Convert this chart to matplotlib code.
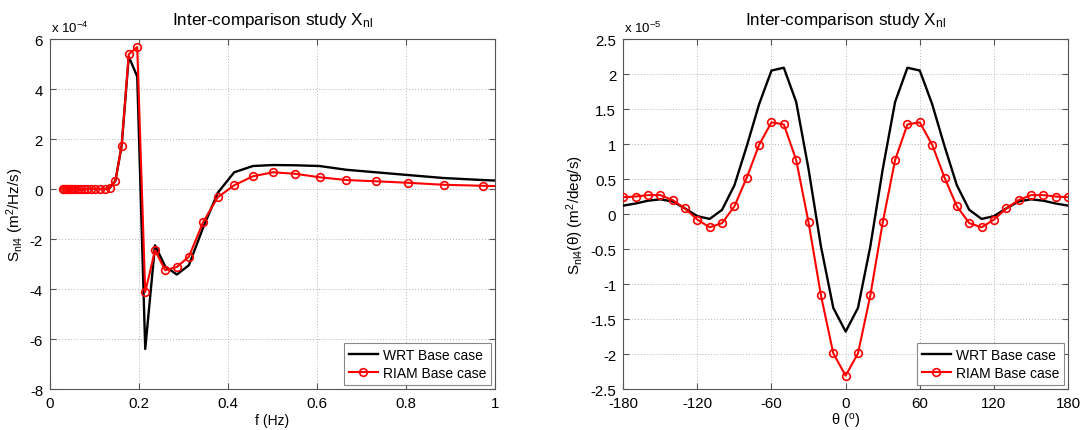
import matplotlib
matplotlib.use("Agg")
import matplotlib.pyplot as plt
from matplotlib.ticker import FuncFormatter

plt.rcParams['font.family'] = ['Liberation Sans', 'DejaVu Sans']
plt.rcParams['mathtext.default'] = 'regular'
plt.rcParams['axes.unicode_minus'] = False

# ---------------- data: left panel (values in units of 1e-4) ----------------
freq = [0.029, 0.032, 0.035, 0.039, 0.043, 0.047, 0.052, 0.057, 0.063, 0.069,
        0.076, 0.084, 0.092, 0.101, 0.112, 0.123, 0.134, 0.147, 0.161, 0.177,
        0.196, 0.214, 0.236, 0.259, 0.285, 0.312, 0.344, 0.377, 0.414, 0.456,
        0.501, 0.551, 0.606, 0.666, 0.732, 0.804, 0.885, 0.972, 1.069]
riam_f = [0.0, 0.0, 0.0, 0.0, 0.0, 0.0, 0.0, 0.0, 0.0, 0.0,
          0.0, 0.0, 0.0, 0.0, 0.0, 0.0, 0.04, 0.33, 1.73, 5.39,
          5.68, -4.12, -2.45, -3.25, -3.12, -2.71, -1.33, -0.33, 0.15, 0.51,
          0.67, 0.61, 0.47, 0.36, 0.31, 0.25, 0.17, 0.13, 0.09]
wrt_f = [0.0, 0.0, 0.0, 0.0, 0.0, 0.0, 0.0, 0.0, 0.0, 0.0,
         0.0, 0.0, 0.0, 0.0, 0.0, 0.0, 0.04, 0.33, 1.73, 5.30,
         4.50, -6.40, -2.25, -3.10, -3.42, -3.05, -1.55, -0.15, 0.67, 0.92,
         0.96, 0.95, 0.92, 0.77, 0.67, 0.56, 0.44, 0.36, 0.29]

# ---------------- data: right panel (values in units of 1e-5) ----------------
theta = [-180, -170, -160, -150, -140, -130, -120, -110, -100, -90,
         -80, -70, -60, -50, -40, -30, -20, -10, 0,
         10, 20, 30, 40, 50, 60, 70, 80, 90,
         100, 110, 120, 130, 140, 150, 160, 170, 180]
riam_t = [0.24, 0.25, 0.27, 0.27, 0.20, 0.08, -0.08, -0.19, -0.13, 0.11,
          0.52, 0.99, 1.31, 1.28, 0.77, -0.12, -1.16, -1.99, -2.31,
          -1.99, -1.16, -0.12, 0.77, 1.28, 1.31, 0.99, 0.52, 0.11,
          -0.13, -0.19, -0.08, 0.08, 0.20, 0.27, 0.27, 0.25, 0.24]
wrt_t = [0.12, 0.15, 0.19, 0.21, 0.18, 0.08, -0.03, -0.07, 0.06, 0.41,
         0.97, 1.57, 2.05, 2.09, 1.60, 0.64, -0.46, -1.34, -1.68,
         -1.34, -0.46, 0.64, 1.60, 2.09, 2.05, 1.57, 0.97, 0.41,
         0.06, -0.07, -0.03, 0.08, 0.18, 0.21, 0.19, 0.15, 0.12]

left_xticks = [0, 0.2, 0.4, 0.6, 0.8, 1]
left_yticks = [-8, -6, -4, -2, 0, 2, 4, 6]
right_xticks = [-180, -120, -60, 0, 60, 120, 180]
right_yticks = [-2.5, -2, -1.5, -1, -0.5, 0, 0.5, 1, 1.5, 2, 2.5]

title = 'Inter-comparison study X$_{nl}$'
labels = ['WRT Base case', 'RIAM Base case']

fig = plt.figure(figsize=(10.8, 4.31), dpi=100)
ax1 = fig.add_axes([0.0463, 0.0951, 0.412, 0.812])
ax2 = fig.add_axes([0.577, 0.0951, 0.412, 0.812])

fmt = FuncFormatter(lambda v, p: '%g' % v)
edge = '#555555'


def style(ax):
    ax.grid(True, linestyle=(0, (1, 2)), color='#b5b5b5', linewidth=0.7)
    ax.set_axisbelow(True)
    ax.tick_params(direction='in', top=True, right=True, length=4,
                   color=edge, labelsize=10.8, pad=5, width=0.8)
    for s in ax.spines.values():
        s.set_color(edge)
        s.set_linewidth(0.8)
    ax.xaxis.set_major_formatter(fmt)
    ax.yaxis.set_major_formatter(fmt)


for ax, x, w, r in [(ax1, freq, wrt_f, riam_f), (ax2, theta, wrt_t, riam_t)]:
    style(ax)
    ax.plot(x, w, color='black', linewidth=1.7, label=labels[0], zorder=3)
    ax.plot(x, r, color='#ff0000', linewidth=1.5, marker='o', markersize=5.5,
            markerfacecolor='none', markeredgewidth=1.2, label=labels[1], zorder=4)
    ax.set_title(title, fontsize=12.3, pad=11)
    leg = ax.legend(loc='lower right', fontsize=10, fancybox=False, framealpha=1,
                    edgecolor='#888888', borderaxespad=0.3, handlelength=2.1,
                    handletextpad=0.35, borderpad=0.35, labelspacing=0.3)
    leg.get_frame().set_linewidth(0.8)

ax1.set_xlim(0, 1)
ax1.set_ylim(-8, 6)
ax1.set_xticks(left_xticks)
ax1.set_yticks(left_yticks)
ax1.set_xlabel('f (Hz)', fontsize=10, labelpad=2)
ax1.set_ylabel('S$_{nl4}$ (m$^2$/Hz/s)', fontsize=11, labelpad=3)
ax1.text(0.003, 1.012, 'x 10$^{-4}$', transform=ax1.transAxes, fontsize=9.5,
         ha='left', va='bottom')

ax2.set_xlim(-180, 180)
ax2.set_ylim(-2.5, 2.5)
ax2.set_xticks(right_xticks)
ax2.set_yticks(right_yticks)
ax2.set_xlabel(r'$\theta$ ($^o$)', fontsize=10.5, labelpad=0.5)
ax2.set_ylabel(r'S$_{nl4}$($\theta$) (m$^2$/deg/s)', fontsize=11, labelpad=3)
ax2.text(0.003, 1.012, 'x 10$^{-5}$', transform=ax2.transAxes, fontsize=9.5,
         ha='left', va='bottom')

fig.savefig('out.png', dpi=100)
